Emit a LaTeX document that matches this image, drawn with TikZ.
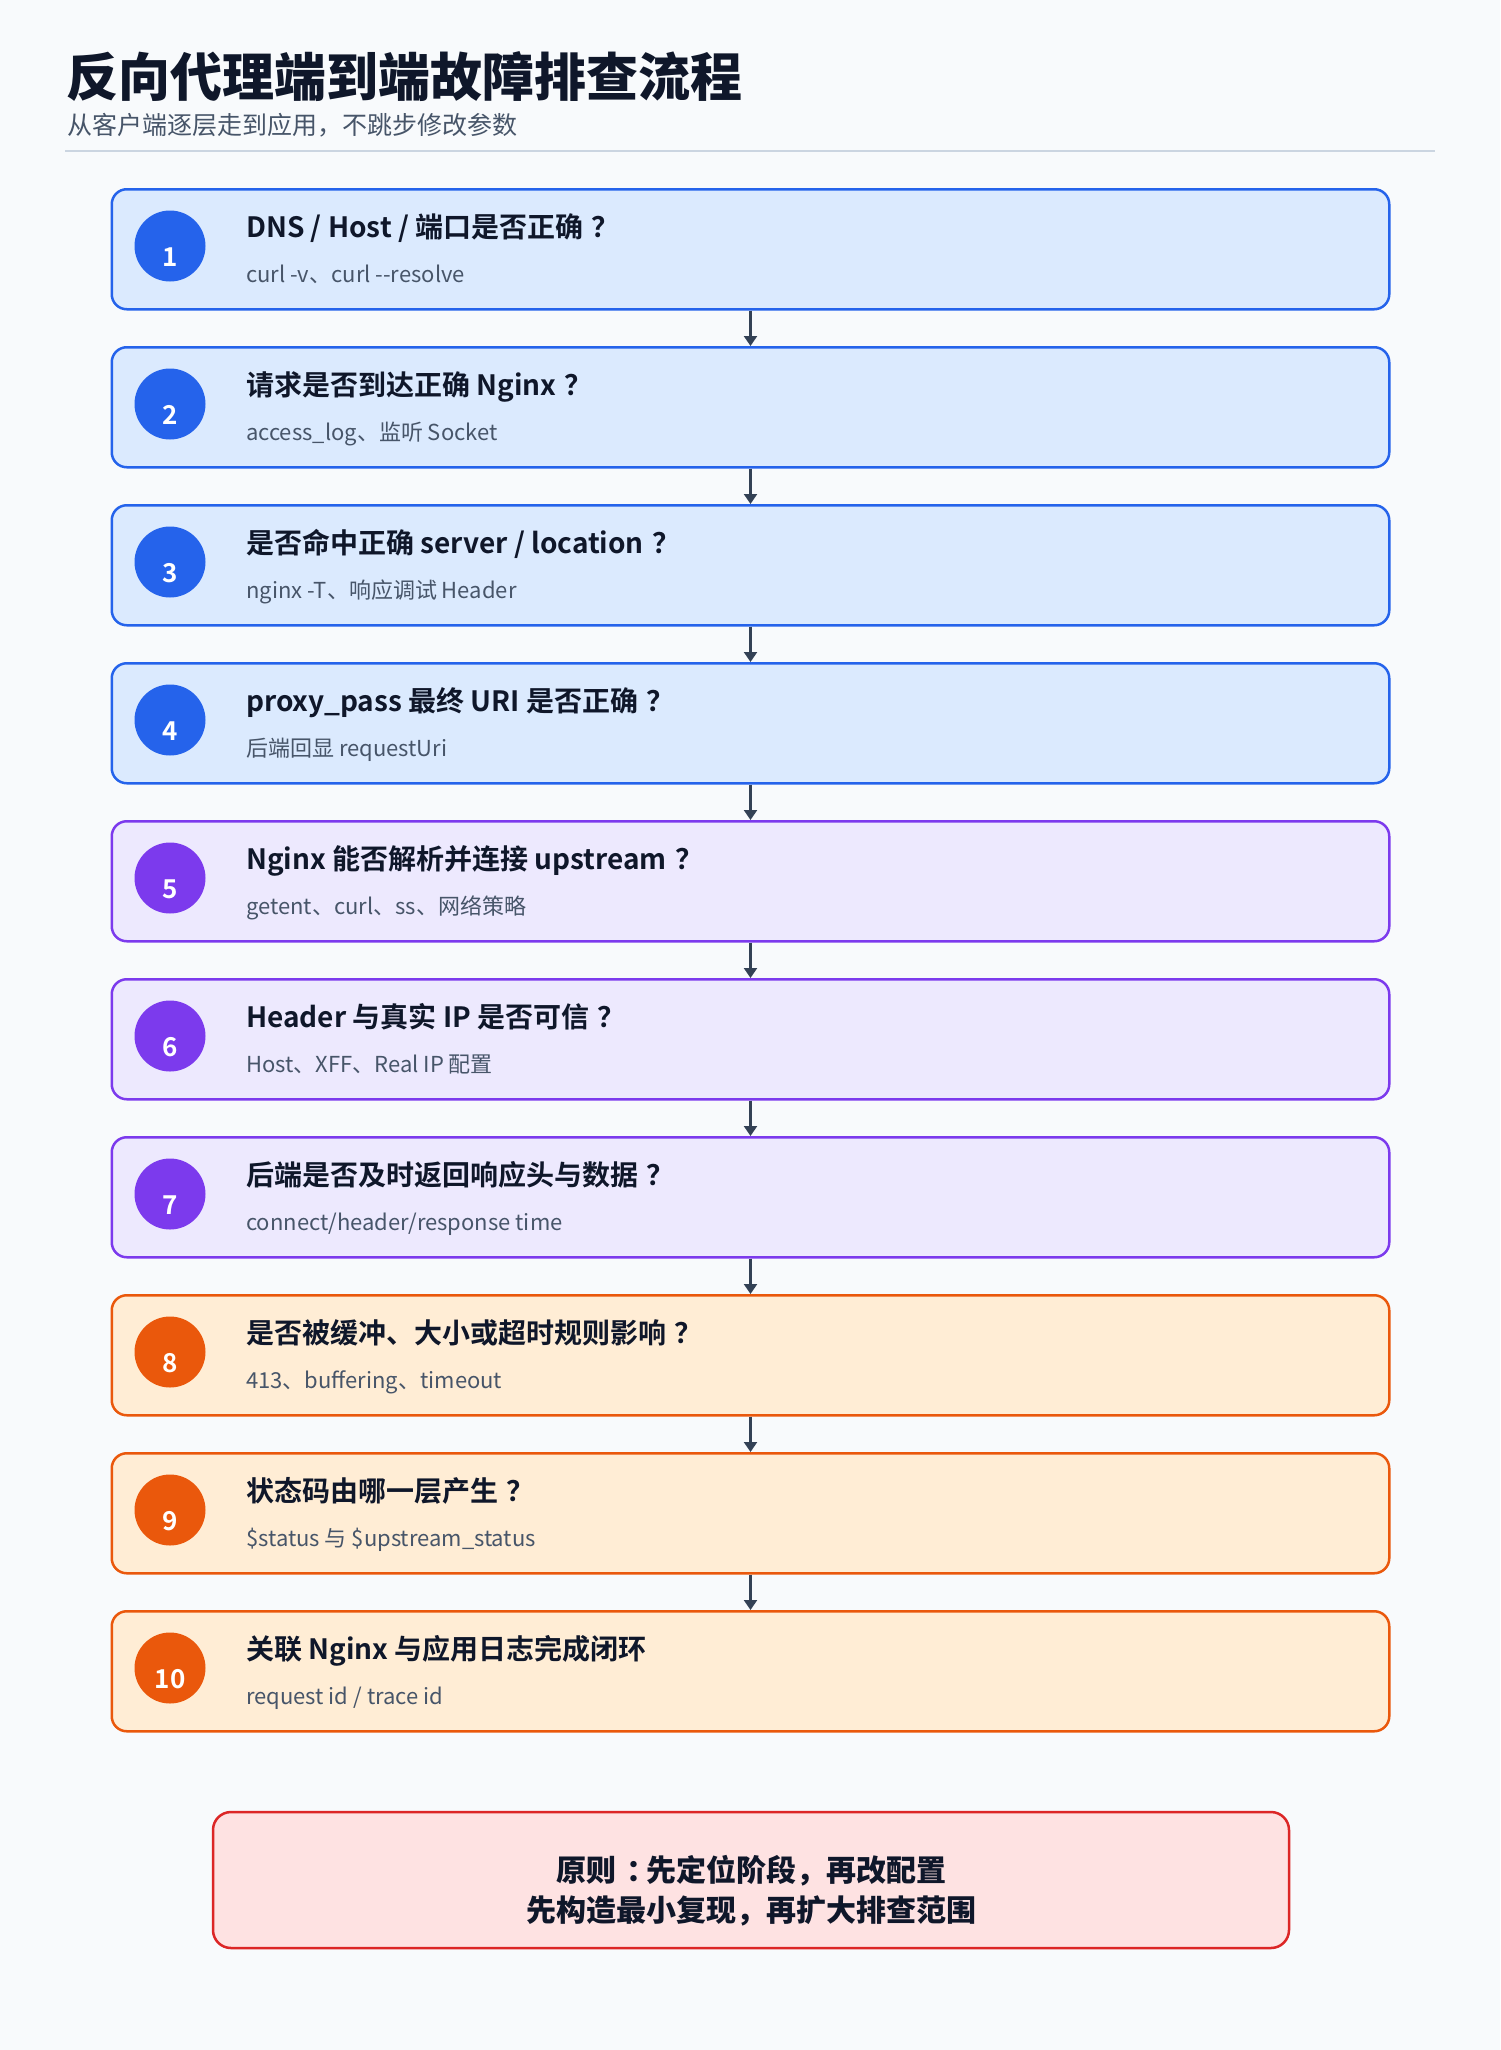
\documentclass[tikz,border=0pt]{standalone}
\usepackage{fontspec}
\setmainfont{Noto Sans CJK SC}[BoldFont={Noto Sans CJK SC Bold}]
\newfontfamily\heavyfont{Noto Sans CJK SC Black}
\usetikzlibrary{arrows.meta}
\definecolor{bg}{HTML}{F8FAFC}
\definecolor{ink}{HTML}{0F172A}
\definecolor{gray}{HTML}{475569}
\definecolor{rule}{HTML}{CBD5E1}
\definecolor{arrowc}{HTML}{334155}
\definecolor{bluefill}{HTML}{DBEAFE}
\definecolor{blueline}{HTML}{2563EB}
\definecolor{purplefill}{HTML}{EDE9FE}
\definecolor{purpleline}{HTML}{7C3AED}
\definecolor{orangefill}{HTML}{FFEDD5}
\definecolor{orangeline}{HTML}{EA580C}
\definecolor{redfill}{HTML}{FEE2E2}
\definecolor{redline}{HTML}{DC2626}
\newcommand\cq{\kern0.3em？}
\newcommand\ccolon{\kern0.35em：\kern-0.35em}
\tikzset{
  stepbox/.style={draw, rounded corners=15pt, line width=2.5pt, minimum width=1277.5pt, minimum height=120pt, anchor=north west, inner sep=0pt},
  numdot/.style={circle, minimum size=71pt, inner sep=0pt, draw=none},
  numtxt/.style={text=white, font=\bfseries\fontsize{26}{30}\selectfont, inner sep=0pt, anchor=center},
  ttl/.style={text=ink, font=\bfseries\fontsize{28}{34}\selectfont, inner sep=0pt, anchor=base west},
  sub/.style={text=gray, font=\fontsize{22}{26}\selectfont, inner sep=0pt, anchor=base west},
  arr/.style={draw=arrowc, line width=2.2pt, -{Triangle[width=13pt,length=10pt]}},
}
\newcommand\drawstep[5]{%
  \node[stepbox, draw=#3line, fill=#3fill] (b#1) at (110.5,#2) {};
  \node[numdot, fill=#3line] (c#1) at (170,#2+58) {};
  \node[numtxt] (n#1) at (170,#2+69) {#1};
  \node[ttl] (t#1) at (246,#2+49) {#4};
  \node[sub] (s#1) at (246,#2+94) {#5};
}
\begin{document}
\begin{tikzpicture}[x=1pt,y=-1pt]
\useasboundingbox (0,0) rectangle (1500,2050);
\fill[bg] (0,0) rectangle (1500,2050);
\node[text=ink, font=\heavyfont\fontsize{52}{60}\selectfont, inner sep=0pt, anchor=base west] (title) at (66,96) {反向代理端到端故障排查流程};
\node[text=gray, font=\fontsize{25}{30}\selectfont, inner sep=0pt, anchor=base west] (subtitle) at (67,134.5) {从客户端逐层走到应用，不跳步修改参数};
\coordinate (ruleL) at (65,151);
\coordinate (ruleR) at (1435,151);
\draw[rule, line width=2pt] (ruleL) -- (ruleR);

\drawstep{1}{188}{blue}{DNS / Host / 端口是否正确\cq}{curl -v、curl -{}-resolve}
\drawstep{2}{346}{blue}{请求是否到达正确 Nginx\cq}{access\_log、监听 Socket}
\drawstep{3}{504}{blue}{是否命中正确 server / location\cq}{nginx -T、响应调试 Header}
\drawstep{4}{662}{blue}{proxy\_pass 最终 URI 是否正确\cq}{后端回显 requestUri}
\drawstep{5}{820}{purple}{Nginx 能否解析并连接 upstream\cq}{getent、curl、ss、网络策略}
\drawstep{6}{978}{purple}{Header 与真实 IP 是否可信\cq}{Host、XFF、Real IP 配置}
\drawstep{7}{1136}{purple}{后端是否及时返回响应头与数据\cq}{connect/header/response time}
\drawstep{8}{1294}{orange}{是否被缓冲、大小或超时规则影响\cq}{413、buffering、timeout}
\drawstep{9}{1452}{orange}{状态码由哪一层产生\cq}{\$status 与 \$upstream\_status}
\drawstep{10}{1610}{orange}{关联 Nginx 与应用日志完成闭环}{request id / trace id}

\foreach \a/\b in {1/2,2/3,3/4,4/5,5/6,6/7,7/8,8/9,9/10}{
  \draw[arr] (b\a.south) -- (b\b.north);
}

\node[draw=redline, fill=redfill, line width=2.5pt, rounded corners=18pt, minimum width=1076pt, minimum height=136pt, inner sep=0pt] (note) at (751,1880) {};
\node[text=ink, font=\heavyfont\fontsize{30}{40}\selectfont, align=center, inner sep=0pt] (notetext) at (751,1891) {原则\ccolon 先定位阶段，再改配置\\先构造最小复现，再扩大排查范围};
\end{tikzpicture}
\end{document}
